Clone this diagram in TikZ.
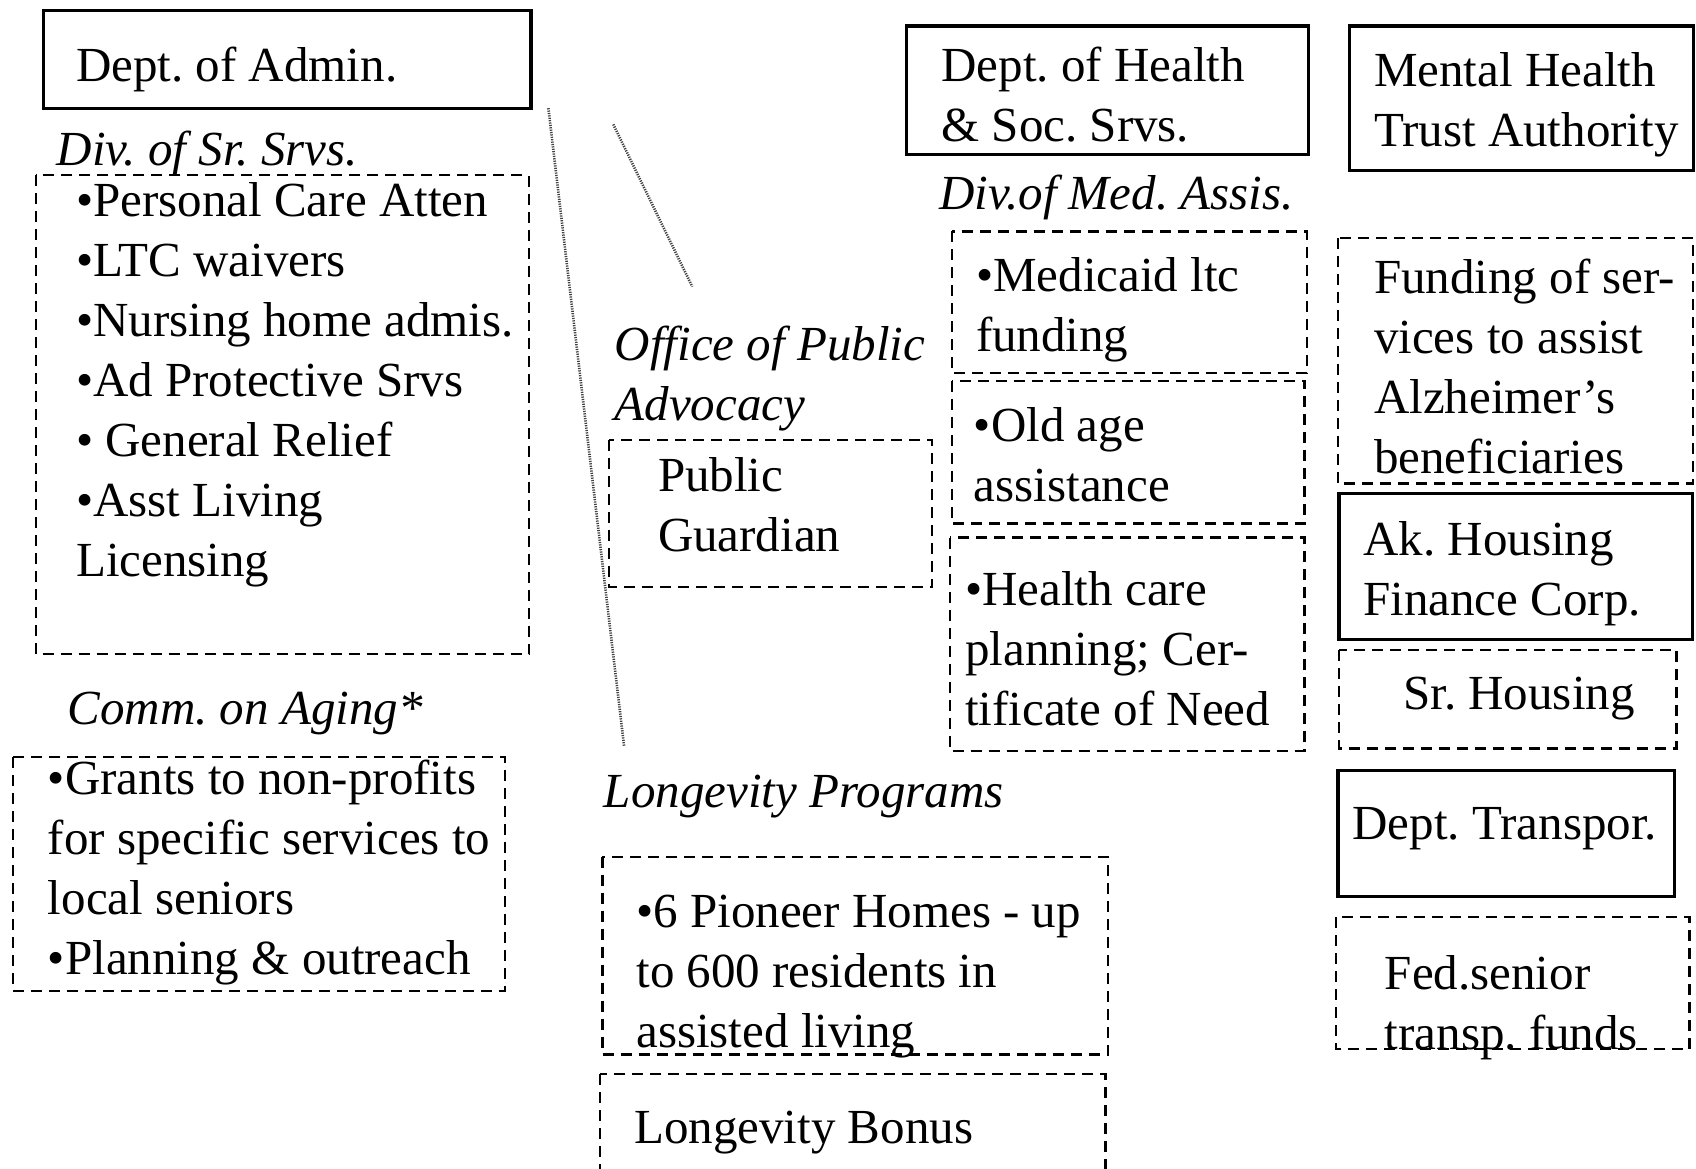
\documentclass[tikz,border=0pt]{standalone}
\usepackage{fontspec}
\setmainfont{Liberation Serif}
\frenchspacing
\tikzset{
  solidbox/.style={line width=1.6pt},
  dashbox/.style={line width=1.1pt, dash pattern=on 5.5pt off 3.5pt},
  txt/.style={anchor=base west, inner sep=0pt, align=left, font=\fontsize{24.5}{30}\selectfont},
  headtxt/.style={txt, font=\fontsize{24.5}{30}\selectfont\itshape},
  link/.style={line width=1.3pt, dash pattern=on 0.6pt off 0.6pt, black!75},
}
\begin{document}
\begin{tikzpicture}[x=0.5408pt, y=-0.5408pt]
\useasboundingbox (0,0) rectangle (1568,1080);

% left column (multi-line texts sit on their last line)
\draw[solidbox] (40,10) rectangle (491,100);
\node[txt] (admin) at (70,75) {Dept. of Admin.};
\node[headtxt] (srsdiv) at (52,153) {Div. of Sr. Srvs.};
\draw[dashbox] (33,162) rectangle (489,605);
\node[txt] (srsitems) at (70,533) {•Personal Care Atten\\•LTC waivers\\•Nursing home admis.\\•Ad Protective Srvs\\• General Relief\\•Asst Living\\Licensing};

\node[headtxt] (aging) at (62,670) {Comm. on Aging*};
\draw[dashbox] (12,700) rectangle (467,916);
\node[txt] (agingitems) at (44,901) {•Grants to non-profits\\for specific services to\\local seniors\\•Planning \& outreach};

% middle column
\node[headtxt] (advocacy) at (568,389) {Office of Public\\Advocacy};
\draw[dashbox] (563,407) rectangle (862,543);
\node[txt] (guardian) at (608,510) {Public\\Guardian};

\node[headtxt] (longevity) at (558,747) {Longevity Programs};
\draw[dashbox] (557,792) rectangle (1024,975);
\node[txt] (pioneer) at (588,968) {•6 Pioneer Homes - up\\to 600 residents in\\assisted living};
\draw[dashbox] (555,993) rectangle (1022,1095);
\node[txt] (bonus) at (586,1057) {Longevity Bonus};

% dotted links
\coordinate (linkA1) at (507,100);
\coordinate (linkA2) at (577,690);
\coordinate (linkB1) at (567,115);
\coordinate (linkB2) at (640,265);
\draw[link] (linkA1) -- (linkA2);
\draw[link] (linkB1) -- (linkB2);

% health column
\draw[solidbox] (838,24) rectangle (1210,143);
\node[txt] (health) at (870,131) {Dept. of Health\\\& Soc. Srvs.};
\node[headtxt] (meddiv) at (868,194) {Div.of Med. Assis.};
\draw[dashbox] (880,214) rectangle (1208,345);
\node[txt] (medicaid) at (902,325) {•Medicaid ltc\\funding};
\draw[dashbox] (880,352) rectangle (1206,484);
\node[txt] (oldage) at (900,464) {•Old age\\assistance};
\draw[dashbox] (878,497) rectangle (1206,694);
\node[txt] (planning) at (892,671) {•Health care\\planning; Cer-\\tificate of Need};

% right column
\draw[solidbox] (1248,24) rectangle (1566,158);
\node[txt] (trust) at (1270,135) {Mental Health\\Trust Authority};
\draw[dashbox] (1237,220) rectangle (1565,447);
\node[txt] (alz) at (1270,438) {Funding of ser-\\vices to assist\\Alzheimer’s\\beneficiaries};
\draw[solidbox] (1238,456) rectangle (1565,591);
\node[txt] (akhfc) at (1260,569) {Ak. Housing\\Finance Corp.};
\draw[dashbox] (1238,601) rectangle (1550,692);
\node[txt] (srhousing) at (1297,656) {Sr. Housing};
\draw[solidbox] (1237,712) rectangle (1548,829);
\node[txt] (transp) at (1250,776) {Dept. Transpor.};
\draw[dashbox] (1235,848) rectangle (1562,970);
\node[txt] (fedsr) at (1280,970) {Fed.senior\\transp. funds};
\end{tikzpicture}
\end{document}
